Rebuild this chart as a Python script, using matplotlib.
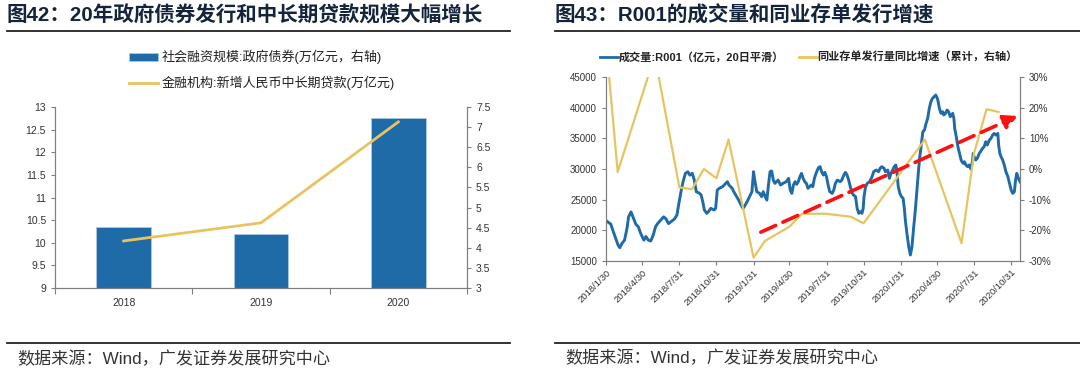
import numpy as np
import pandas as pd
import matplotlib.pyplot as plt
from matplotlib.lines import Line2D
from matplotlib.patches import Patch
from matplotlib.ticker import FuncFormatter, FixedLocator

plt.rcParams['font.family'] = ['Liberation Sans', 'Noto Sans CJK SC']

# ---- 图42 数据 ----
years = ['2018', '2019', '2020']
gov_bond = [10.34, 10.2, 12.76]          # 左轴刻度
mid_long_loan = [4.17, 4.62, 7.13]       # 右轴刻度

# ---- 图43 数据 ----
r001_start = '2018-01-30'
# 距 2018-01-30 的天数
r001_day = [0, 4, 12, 18, 24, 30, 34, 40, 46, 52, 56, 62, 68, 74, 80, 86, 94, 99, 105, 111,
            117, 123, 128, 136, 143, 149, 155, 163, 170, 176, 180, 186, 191, 197, 203, 208, 214,
            219, 224, 232, 236, 240, 244, 250, 254, 260, 268, 272, 276, 281, 289, 297, 301, 305,
            313, 317, 324, 329, 335, 340, 343, 350, 356, 362, 366, 369, 374, 381, 386, 390, 395,
            399, 403, 407, 411, 415, 419, 427, 433, 439, 447, 453,
            457, 461, 465, 469, 473, 477, 481, 485, 489, 493, 497, 501, 505, 509, 513, 517, 521,
            527, 531, 535, 539, 543, 547, 551, 555, 561, 565, 569, 574, 581, 585, 590, 594, 598,
            602, 606, 611, 614, 619, 623, 627, 631, 635, 638, 640, 644, 648, 654, 660, 664, 670,
            676, 680, 684, 690, 693,
            699, 703, 707, 711, 715, 719, 722, 723, 725, 729, 733, 737, 740, 743, 747, 751, 755,
            759, 763, 767, 771, 775, 778, 782, 786, 790, 794, 798, 802, 806, 810, 814, 818, 822,
            824, 827, 831, 835, 838, 842, 846, 850, 854, 858, 860, 863, 865, 869, 873, 877, 881,
            883, 886, 889, 893, 897, 901, 905,
            909, 911, 913, 917, 921, 926, 930, 934, 938, 942, 946, 951, 955, 959, 963, 967, 972,
            974, 977, 980, 984, 988, 992, 997, 1001, 1005, 1009, 1013, 1016, 1019, 1023, 1027]
r001_vol = [21600, 21400, 21000, 19800, 18700, 17600, 17170, 17900, 18400, 20300, 22200, 23000,
            22000, 21000, 20600, 19500, 18400, 19000, 18400, 18260, 19200, 20600, 21100, 21700,
            22200, 21850, 21100, 21500, 21850, 22500, 24100, 26300, 27900, 29300, 29550, 29000,
            29300,
            28200, 26300, 26030, 25760, 24670, 23310, 22770, 23040, 23590, 23310, 23590, 26570,
            26850, 27110, 27660, 27930, 27390, 26850, 26300, 25490, 24940, 24130, 23590, 23860,
            24670, 25490, 26300, 29560, 28200, 26300, 26030, 25490, 26300, 25490, 24940, 27390,
            29560, 29670, 28200, 27660, 28200, 27390, 27660, 27930, 28480,
            26570, 26030, 27390, 27930, 27500, 27930, 28740, 29290, 28480, 27930, 27660, 26850,
            27110, 27390, 27110, 28480, 29290, 30210, 30380, 29560, 29020, 29450, 28740, 27390,
            26300, 26030, 26570, 27660, 28200, 27930, 28200, 29020, 29450, 29020, 28200, 27110,
            26030, 25760, 25490, 23590, 22770, 23040, 22770, 23590, 25490, 27110, 27660, 27930,
            28740, 29560, 29830, 29560, 30110, 30380, 30110, 29560,
            29830, 28480, 29290, 29830, 30380, 30650, 29560, 28480, 27110, 26030, 25490, 25220,
            23590, 21410, 19240, 17330, 15980, 17330, 20330, 23040, 26300, 29560, 31740, 33910,
            36080, 36350, 37440, 38260, 39890, 40970, 41520, 41780, 42060, 41520, 40970, 39890,
            39070, 39340, 38800, 39070, 39610, 39340, 38530, 38800, 39070, 38260, 36630, 35260,
            33630, 32550, 31460, 31190, 30920, 31190, 30650, 30380, 30650, 30000,
            31190, 32550, 32000, 31460, 31740, 32550, 32930, 33360, 33630, 34450, 33910, 34720,
            34990, 35530, 35800, 35530, 35800, 33910, 32550, 32000, 31460, 30650, 29560, 28740,
            27660, 26570, 26030, 26300, 28200, 29290, 28480, 27930]

ncd_month = ['2018-01-31', '2018-02-28', '2018-05-31', '2018-07-31', '2018-08-31', '2018-09-30',
             '2018-10-31', '2018-11-30', '2019-01-31', '2019-02-28', '2019-04-30', '2019-05-31',
             '2019-07-31', '2019-09-30', '2019-10-31', '2020-03-31', '2020-06-30', '2020-07-31',
             '2020-08-31', '2020-09-30']
ncd_growth = [40, -1, 37, -6, -6.6, 0, -3, 9.6, -28.9, -23.5, -18.8, -14.6,
              -14.6, -15.6, -17.7, 9.6, -24.2, 5.2, 19.5, 18.6]

date_ticks = ['2018/1/30', '2018/4/30', '2018/7/31', '2018/10/31', '2019/1/31', '2019/4/30',
              '2019/7/31', '2019/10/31', '2020/1/31', '2020/4/30', '2020/7/31', '2020/10/31']

# 趋势箭头 (日期, 右轴%)
trend_start = ('2019-02-18', -20.6)
trend_end = ('2020-11-16', 17.3)

blue = '#1F6BA8'
gold = '#E6C560'
spine_c = '#7F7F7F'
title_c = '#14243C'

fig = plt.figure(figsize=(10.8, 3.84), dpi=100)


def frame_lines(x0, x1):
    for y in [1 - 31 / 384, 1 - 343 / 384]:
        fig.add_artist(Line2D([x0 / 1080, x1 / 1080], [y, y], transform=fig.transFigure,
                              color='#222222', lw=1.3))


def style_axis(ax):
    for s in ax.spines.values():
        s.set_color(spine_c)
        s.set_linewidth(0.8)
    ax.tick_params(colors=spine_c, labelcolor='#333333', labelsize=7.5, length=3, width=0.8)


# ---------------- 图42 ----------------
fig.text(7 / 1080, 1 - 15 / 384, '图42：20年政府债券发行和中长期贷款规模大幅增长',
         fontsize=14.8, fontweight='bold', color=title_c, va='center')
frame_lines(7, 510)
fig.text(17 / 1080, 1 - 359 / 384, '数据来源：Wind，广发证券发展研究中心',
         fontsize=12.3, color='#333333', va='center')

ax1 = fig.add_axes([55 / 1080, 1 - 288 / 384, 412 / 1080, 181 / 384])
x = np.arange(len(years))
ax1.bar(x, gov_bond, width=0.4, color=blue, edgecolor='#A9C8E6', linewidth=0.6, zorder=2)
ax1.set_xlim(-0.5, 2.5)
ax1.set_ylim(9, 13)
ax1.set_yticks(np.arange(9, 13.01, 0.5))
ax1.yaxis.set_major_formatter(FuncFormatter(lambda v, p: '%g' % v))
ax1.set_xticks(x)
ax1.set_xticklabels(years)
ax1.xaxis.set_minor_locator(FixedLocator([-0.5, 0.5, 1.5, 2.5]))
style_axis(ax1)
ax1.tick_params(axis='x', which='major', length=0, pad=7)
ax1.tick_params(axis='x', which='minor', length=4, color=spine_c, width=0.8)
ax1.spines['top'].set_visible(False)

ax1r = ax1.twinx()
ax1r.plot(x, mid_long_loan, color=gold, lw=2, zorder=3)
ax1r.set_ylim(3, 7.5)
ax1r.set_yticks(np.arange(3, 7.51, 0.5))
ax1r.yaxis.set_major_formatter(FuncFormatter(lambda v, p: '%g' % v))
style_axis(ax1r)
ax1r.spines['top'].set_visible(False)

fig.legend(handles=[Patch(facecolor=blue, edgecolor='#A9C8E6', linewidth=0.6),
                    Line2D([], [], color=gold, lw=2)],
           labels=['社会融资规模:政府债券(万亿元，右轴)', '金融机构:新增人民币中长期贷款(万亿元)'],
           loc='center', bbox_to_anchor=(262 / 1080, 1 - 70 / 384), frameon=False,
           fontsize=9.4, labelspacing=0.9, handlelength=2.2, handleheight=0.55,
           handletextpad=0.3, labelcolor='#222222')

# ---------------- 图43 ----------------
fig.text(555 / 1080, 1 - 15 / 384, '图43：R001的成交量和同业存单发行增速',
         fontsize=14.8, fontweight='bold', color=title_c, va='center')
frame_lines(555, 1080)
fig.text(565 / 1080, 1 - 358 / 384, '数据来源：Wind，广发证券发展研究中心',
         fontsize=12.3, color='#333333', va='center')

r001_dates = pd.Timestamp(r001_start) + pd.to_timedelta(r001_day, unit='D')
ncd_dates = pd.to_datetime(ncd_month)
tick_dates = pd.to_datetime(date_ticks, format='%Y/%m/%d')

ax2 = fig.add_axes([606 / 1080, 1 - 261 / 384, 414 / 1080, 184 / 384])
ax2.plot(r001_dates, r001_vol, color=blue, lw=2.1, zorder=2)
ax2.set_ylim(15000, 45000)
ax2.set_yticks(np.arange(15000, 45001, 5000))
ax2.set_xlim(pd.Timestamp('2018-01-30'), pd.Timestamp('2020-11-22'))
ax2.set_xticks(tick_dates)
ax2.set_xticklabels(date_ticks, rotation=45, ha='right', rotation_mode='anchor')
style_axis(ax2)
ax2.tick_params(axis='y', labelsize=7)
ax2.tick_params(axis='x', labelsize=6.8, pad=2)
ax2.spines['top'].set_visible(False)

ax2r = ax2.twinx()
ax2r.plot(ncd_dates, ncd_growth, color=gold, lw=1.6, zorder=3)
ax2r.set_ylim(-30, 30)
ax2r.set_yticks(np.arange(-30, 31, 10))
ax2r.yaxis.set_major_formatter(FuncFormatter(lambda v, p: '%d%%' % v))
style_axis(ax2r)
ax2r.tick_params(axis='y', labelsize=7)
ax2r.spines['top'].set_visible(False)

ax2r.annotate('', xy=(pd.Timestamp(trend_end[0]), trend_end[1]),
              xytext=(pd.Timestamp(trend_start[0]), trend_start[1]),
              arrowprops=dict(arrowstyle='-|>,head_length=0.8,head_width=0.42', color='#FF1010',
                              lw=2.6, linestyle=(0, (4.5, 2.2)), shrinkA=0, shrinkB=0),
              zorder=5)

fig.legend(handles=[Line2D([], [], color=blue, lw=2), Line2D([], [], color=gold, lw=2)],
           labels=['成交量:R001（亿元，20日平滑）', '同业存单发行量同比增速（累计，右轴）'],
           loc='center', bbox_to_anchor=(809 / 1080, 1 - 57 / 384), ncol=2, frameon=False,
           handlelength=1.6, handletextpad=0.1, columnspacing=1.3,
           prop={'weight': 'bold', 'size': 8}, labelcolor='#222222')

fig.savefig('out.png', dpi=100)
